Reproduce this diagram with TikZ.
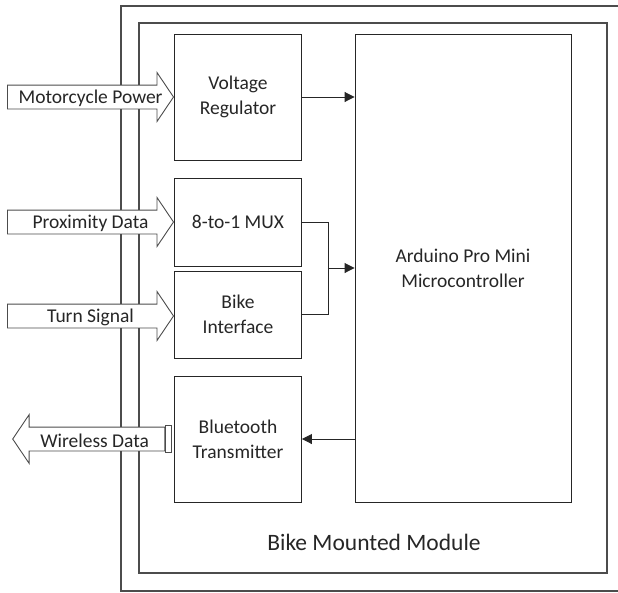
\documentclass[tikz,border=0pt]{standalone}
\usepackage{fontspec}
\setmainfont{Carlito}
\usepackage{tikz}
\usetikzlibrary{arrows.meta,positioning,calc,shapes.arrows}

\begin{document}
\begin{tikzpicture}[x=1pt, y=-1pt,
  box/.style={draw=black!85, line width=0.9pt, align=center, minimum width=127pt, font=\fontsize{19.5}{25}\selectfont, text=black!85, inner sep=0pt},
  frame/.style={draw=black!70, line width=1.2pt, inner sep=0pt},
  bigarr/.style={single arrow, draw=black!70, line width=0.9pt, fill=white, inner xsep=0pt, inner ysep=11.5pt, minimum height=166pt, single arrow head extend=12.5pt, single arrow tip angle=112},
  lbl/.style={font=\fontsize{19.5}{25}\selectfont, text=black!85, inner sep=0pt},
  arr/.style={-{Triangle[length=10pt,width=10pt]}, line width=0.9pt, draw=black!85}
]
\useasboundingbox (0,0) rectangle (618,592);
% frames
\node[frame, minimum width=580pt, minimum height=585pt] (outer) at (411,298.5) {};
\node[frame, minimum width=468pt, minimum height=550pt] (module) at (373,298) {};
\node[lbl, font=\fontsize{23.5}{28}\selectfont] (title) at (374,542) {Bike Mounted Module};
% blocks
\node[box, minimum height=126pt] (vreg) at (238,97) {Voltage\\Regulator};
\node[box, minimum height=88pt] (mux) at (238,222) {8-to-1 MUX};
\node[box, minimum height=87pt] (bikeif) at (238,314.5) {Bike\\Interface};
\node[box, minimum height=126pt] (bt) at (238,439) {Bluetooth\\Transmitter};
\node[box, minimum width=216pt, minimum height=468pt] (mcu) at (463,268) {Arduino Pro Mini\\Microcontroller};
% big input / output arrows
\node[bigarr, anchor=tip] (pwr) at (vreg.west) {};
\node[lbl] at ($(pwr.tip)!0.5!(pwr.tail)+(0,1.5)$) {Motorcycle Power};
\node[bigarr, anchor=tip] (prox) at (mux.west) {};
\node[lbl] at ($(prox.tip)!0.5!(prox.tail)+(0,1.5)$) {Proximity Data};
\node[bigarr, anchor=tip] (turn) at ($(bikeif.west)+(0,1.5)$) {};
\node[lbl] at ($(turn.tip)!0.5!(turn.tail)+(0,1.5)$) {Turn Signal};
\node[draw=black!70, line width=0.9pt, fill=white, minimum width=6pt, minimum height=27pt, inner sep=0pt, anchor=east] (plug) at ($(bt.west)+(-2,0)$) {};
\node[bigarr, shape border rotate=180, minimum height=152pt, anchor=tail] (wless) at (plug.west) {};
\node[lbl] at ($(wless.tip)!0.5!(wless.tail)+(6,1.5)$) {Wireless Data};
% signal lines
\draw[arr] (vreg.east) -- (vreg.east -| mcu.west);
\coordinate (jn) at ($(mux.east)+(26,0)$);
\draw[line width=0.9pt, draw=black!85] (mux.east) -- (jn) |- (bikeif.east);
\draw[arr] (jn |- mcu.west) -- (mcu.west);
\draw[arr] (mcu.west |- bt.east) -- (bt.east);
\end{tikzpicture}
\end{document}
